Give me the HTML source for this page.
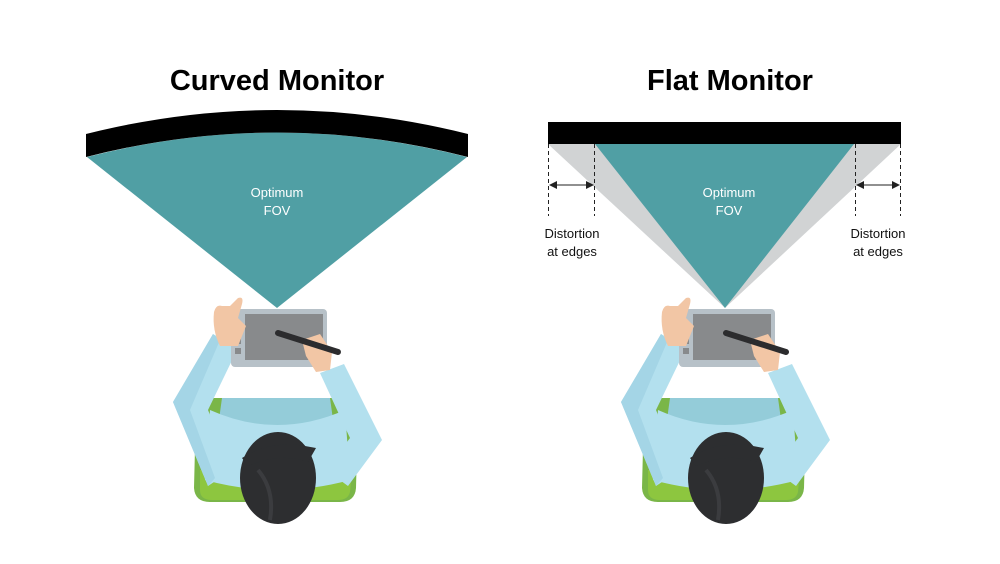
<!DOCTYPE html>
<html><head><style>
html,body{margin:0;padding:0;background:#fff;}
svg{display:block;}
</style></head><body>
<svg width="1000" height="564" viewBox="0 0 1000 564" xmlns="http://www.w3.org/2000/svg" font-family="Liberation Sans, sans-serif">
<defs>
<marker id="ah" markerWidth="8" markerHeight="8" refX="7" refY="4" orient="auto-start-reverse" markerUnits="userSpaceOnUse">
<path d="M0,0 L8,4 L0,8 Z" fill="#222"/></marker>
<g id="person">
  <!-- chair -->
  <path d="M196,408 Q196,398 208,398 L346,398 Q358,398 358,410 L356,488 Q355,502 340,502 L210,502 Q195,502 194,488 Z" fill="#7ab648"/>
  <path d="M200,470 L352,470 L350,492 Q348,500 338,500 L212,500 Q200,500 200,490 Z" fill="#8dc63f"/>
  <!-- torso -->
  <path d="M222,398 L330,398 L340,470 Q277,500 212,470 Z" fill="#94ccd9"/>
  <path d="M210,410 Q277,440 345,410 L350,480 Q277,500 205,480 Z" fill="#b3e0ee"/>
  <!-- left arm -->
  <path d="M173,402 L213,334 L238,348 L208,410 L232,470 L208,486 Z" fill="#b3e0ee"/>
  <path d="M173,402 L213,334 L220,340 L190,410 L215,478 L208,486 Z" fill="#a4d5e6"/>
  <!-- right arm -->
  <path d="M320,373 L344,364 L382,440 L348,486 L326,470 L350,438 Z" fill="#b3e0ee"/>
  <!-- tablet -->
  <rect x="231" y="309" width="96" height="58" rx="4" fill="#b7c1c8"/>
  <rect x="245" y="314" width="78" height="46" fill="#888a8c"/>
  <rect x="235" y="338" width="6" height="6" fill="#888a8c"/>
  <rect x="235" y="348" width="6" height="6" fill="#888a8c"/>
  <!-- left hand -->
  <path d="M214,312 Q216,304 222,306 L230,306 L238,298 Q244,296 242,304 L238,318 L246,326 L238,346 L220,346 Q212,330 214,312 Z" fill="#f2c6a5"/>
  <!-- right hand + pen -->
  <path d="M302,340 L320,334 L332,352 L330,370 L316,372 L306,356 Z" fill="#f2c6a5"/>
  <path d="M278,333 L338,352" stroke="#2c2c2e" stroke-width="6" stroke-linecap="round"/>
  <path d="M278,333 L296,339" stroke="#2c2c2e" stroke-width="3" stroke-linecap="round"/>
  <!-- head / hair -->
  <path d="M252,445 Q277,436 300,445 L300,456 L252,456 Z" fill="#f2c6a5"/>
  <ellipse cx="278" cy="478" rx="38" ry="46" fill="#2d2e30"/>
  <path d="M242,458 Q270,440 305,446 L316,448 L308,462 Q280,452 248,466 Z" fill="#2d2e30"/>
  <path d="M258,470 Q275,490 270,520" stroke="#3b3c3f" stroke-width="4" fill="none"/>
</g>
</defs>

<text x="277" y="90" font-size="29" font-weight="bold" text-anchor="middle" fill="#000">Curved Monitor</text>
<text x="730" y="90" font-size="29" font-weight="bold" text-anchor="middle" fill="#000">Flat Monitor</text>

<!-- curved monitor -->
<path d="M87,157 Q277,108 467,157 L277,308 Z" fill="#509fa4"/>
<path d="M86,134 Q277,86 468,134 L468,157 Q277,108 86,157 Z" fill="#000"/>
<text x="277" y="197" font-size="13" text-anchor="middle" fill="#fff">Optimum</text>
<text x="277" y="215" font-size="13" text-anchor="middle" fill="#fff">FOV</text>

<!-- flat monitor -->
<path d="M548,144 L901,144 L725,308 Z" fill="#d1d3d4"/>
<path d="M595,144 L854,144 L725,308 Z" fill="#509fa4"/>
<rect x="548" y="122" width="353" height="22" fill="#000"/>
<g stroke="#222" stroke-width="1" stroke-dasharray="4,3">
<line x1="548.5" y1="144" x2="548.5" y2="216"/>
<line x1="594.5" y1="144" x2="594.5" y2="216"/>
<line x1="855.5" y1="144" x2="855.5" y2="216"/>
<line x1="900.5" y1="144" x2="900.5" y2="216"/>
</g>
<line x1="550" y1="185" x2="593" y2="185" stroke="#222" stroke-width="1" marker-start="url(#ah)" marker-end="url(#ah)"/>
<line x1="857" y1="185" x2="899" y2="185" stroke="#222" stroke-width="1" marker-start="url(#ah)" marker-end="url(#ah)"/>
<text x="729" y="197" font-size="13" text-anchor="middle" fill="#fff">Optimum</text>
<text x="729" y="215" font-size="13" text-anchor="middle" fill="#fff">FOV</text>
<text x="572" y="238" font-size="13" text-anchor="middle" fill="#111">Distortion</text>
<text x="572" y="256" font-size="13" text-anchor="middle" fill="#111">at edges</text>
<text x="878" y="238" font-size="13" text-anchor="middle" fill="#111">Distortion</text>
<text x="878" y="256" font-size="13" text-anchor="middle" fill="#111">at edges</text>

<use href="#person"/>
<use href="#person" transform="translate(448,0)"/>
</svg>
</body></html>
